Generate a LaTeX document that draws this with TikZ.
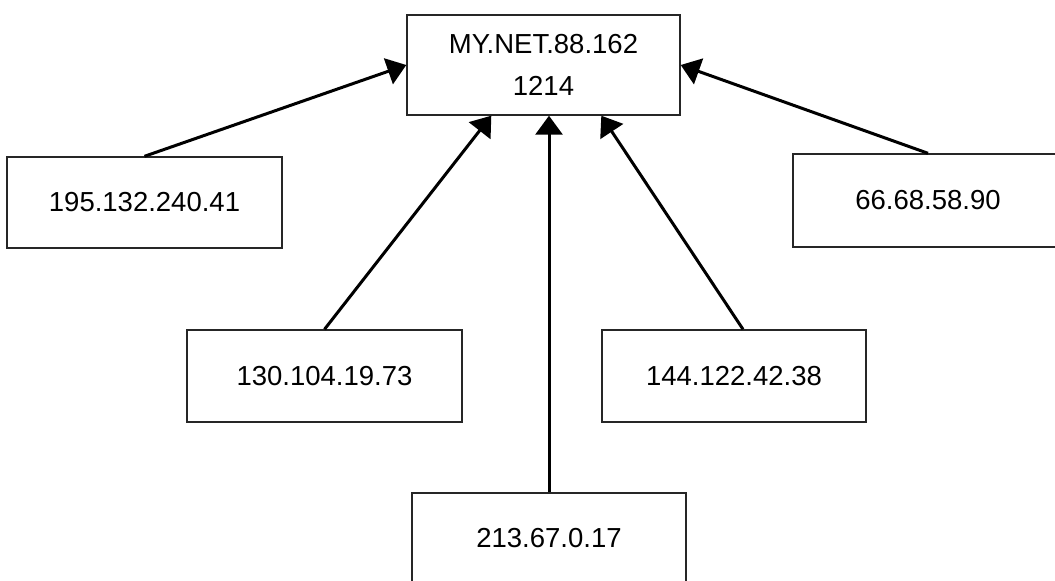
\documentclass[tikz,border=0pt]{standalone}
\usepackage{fontspec}
\setmainfont{Liberation Sans}
\usetikzlibrary{arrows.meta}
\begin{document}
\begin{tikzpicture}[x=1pt,y=-1pt,
  hostbox/.style={draw=black!85, line width=1.4pt, rectangle, inner sep=0pt,
    font=\fontsize{27.5}{42}\selectfont, align=center},
  conn/.style={line width=3pt, -{Triangle[length=19pt,width=27pt]}}]
\useasboundingbox (0,0) rectangle (1055,581);
\clip (0,0) rectangle (1055,581);
\node[hostbox, minimum width=273pt, minimum height=100pt] (top) at (543.5,65) {MY.NET.88.162\\1214};
\node[hostbox, minimum width=275pt, minimum height=91pt] (a) at (144.5,202.5) {195.132.240.41};
\node[hostbox, minimum width=270pt, minimum height=93pt] (b) at (928,200.5) {66.68.58.90};
\node[hostbox, minimum width=275pt, minimum height=92pt] (c) at (324.5,376) {130.104.19.73};
\node[hostbox, minimum width=264pt, minimum height=92pt] (d) at (734,376) {144.122.42.38};
\node[hostbox, minimum width=274pt, minimum height=91pt] (e) at (549,538.5) {213.67.0.17};
\draw[conn] (a.north) -- (top.west);
\draw[conn] (b.north) -- (top.east);
\draw[conn] (c.north) -- ([xshift=85pt]top.south west);
\draw[conn] (e.north) -- (e.north |- top.south);
\draw[conn] ([xshift=9pt]d.north) -- ([xshift=195pt]top.south west);
\end{tikzpicture}
\end{document}
